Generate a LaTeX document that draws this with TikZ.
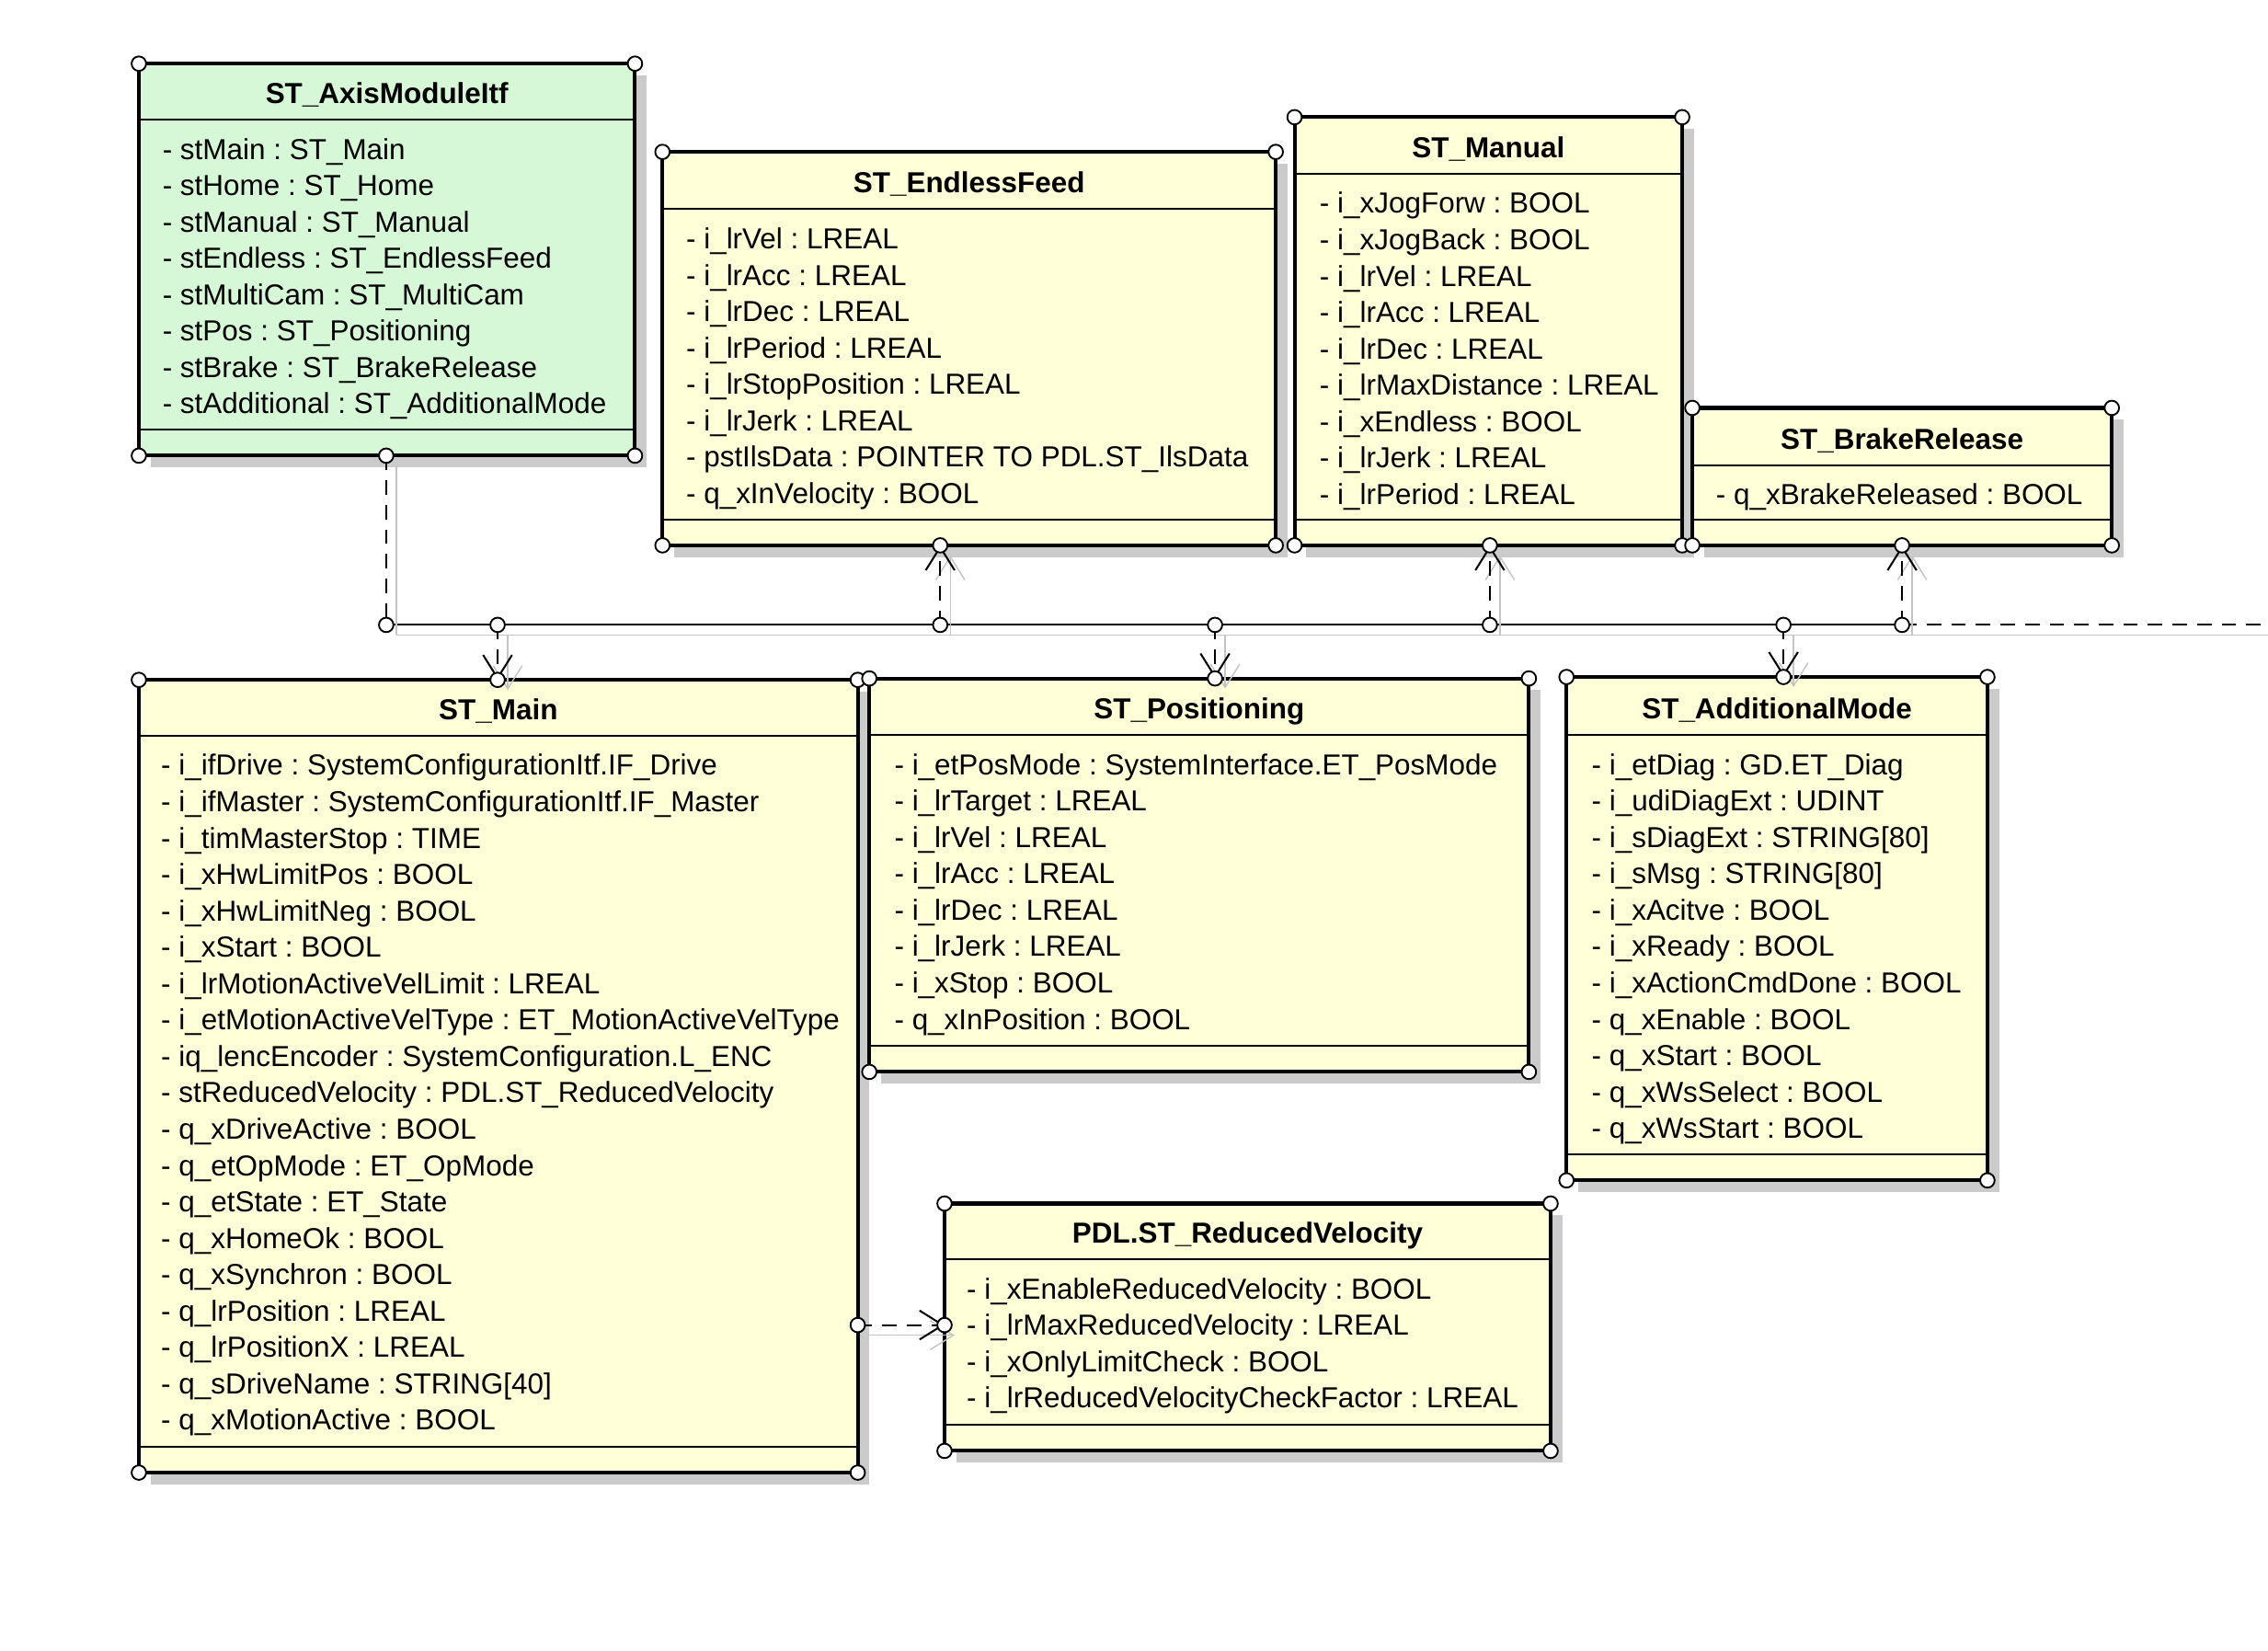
\documentclass[tikz,border=0pt]{standalone}
\usepackage{fontspec}
\setmainfont{Liberation Sans}
\usetikzlibrary{arrows.meta}
\frenchspacing

\definecolor{classyellow}{HTML}{FFFFD8}
\definecolor{classgreen}{HTML}{D6F8D6}
\definecolor{shadowgray}{HTML}{CBCBCB}
\definecolor{linkshadow}{HTML}{C4C4C4}

\tikzset{
  classframe/.style={draw=black, line width=1.3pt},
  classsep/.style={draw=black, line width=0.7pt},
  boxshadow/.style={fill=shadowgray},
  classtitle/.style={font=\fontsize{10}{12}\selectfont\bfseries, anchor=base, inner sep=0pt},
  attr/.style={font=\fontsize{10}{12}\selectfont, anchor=base west, inner sep=0pt},
  portring/.style={draw=black, fill=white, line width=0.6pt},
  linkshade/.style={preaction={draw=linkshadow, line width=0.45pt, transform canvas={shift={(3.5pt,-3.5pt)}}}},
  busline/.style={draw=black, line width=0.65pt, linkshade},
  link/.style={draw=black, line width=0.65pt, dash pattern=on 5pt off 3.5pt, linkshade},
  dep/.style={link, -{Straight Barb[length=8pt,width=10pt]}}
}

% one class: shadow, frame, two compartment lines, corner rings
% #1 name, #2/#3 top left, #4/#5 bottom right, #6/#7 separators, #8 fill
\newcommand{\classbox}[8]{%
  \fill[boxshadow] (#2+8,#3+8) rectangle (#4+8,#5+8);
  \draw[classframe,fill=#8] (#2,#3) rectangle (#4,#5);
  \draw[classsep] (#2,#6) -- (#4,#6) (#2,#7) -- (#4,#7);
  \coordinate (#1-nw) at (#2,#3);
  \coordinate (#1-ne) at (#4,#3);
  \coordinate (#1-sw) at (#2,#5);
  \coordinate (#1-se) at (#4,#5);
  \foreach \c in {nw,ne,sw,se} \draw[portring] (#1-\c) circle (2.5pt);
}

\begin{document}
\begin{tikzpicture}[x=0.5pt,y=-0.5pt]
\fill[white] (0,0) rectangle (1568,1141);
\useasboundingbox (0,0) rectangle (1568,1141);
% Drawing classes
% ST_AxisModuleItf
\classbox{axis}{96}{44}{439}{315}{82.5}{297}{classgreen}
\node[classtitle] (axis-title) at (267.5,71.5) {ST\_AxisModuleItf};
\foreach \txt [count=\i from 0] in {- stMain : ST\_Main, - stHome : ST\_Home, - stManual : ST\_Manual, - stEndless : ST\_EndlessFeed, - stMultiCam : ST\_MultiCam, - stPos : ST\_Positioning, - stBrake : ST\_BrakeRelease, - stAdditional : ST\_AdditionalMode}
  \node[attr] (axis-a\i) at (112,{110+\i*25.15}) {\txt};
% ST_EndlessFeed
\classbox{endless}{458}{105}{882}{377}{144.5}{359.5}{classyellow}
\node[classtitle] (endless-title) at (670,133.5) {ST\_EndlessFeed};
\foreach \txt [count=\i from 0] in {- i\_lrVel : LREAL, - i\_lrAcc : LREAL, - i\_lrDec : LREAL, - i\_lrPeriod : LREAL, - i\_lrStopPosition : LREAL, - i\_lrJerk : LREAL, - pstIlsData : POINTER TO PDL.ST\_IlsData, - q\_xInVelocity : BOOL}
  \node[attr] (endless-a\i) at (474,{172+\i*25.15}) {\txt};
% ST_Manual
\classbox{manual}{895}{81}{1163}{377}{120}{359.5}{classyellow}
\node[classtitle] (manual-title) at (1029,109) {ST\_Manual};
\foreach \txt [count=\i from 0] in {- i\_xJogForw : BOOL, - i\_xJogBack : BOOL, - i\_lrVel : LREAL, - i\_lrAcc : LREAL, - i\_lrDec : LREAL, - i\_lrMaxDistance : LREAL, - i\_xEndless : BOOL, - i\_lrJerk : LREAL, - i\_lrPeriod : LREAL}
  \node[attr] (manual-a\i) at (912,{147.5+\i*25.15}) {\txt};
% ST_BrakeRelease
\classbox{brake}{1170}{282}{1460}{377}{321.5}{359.5}{classyellow}
\node[classtitle] (brake-title) at (1315,310.5) {ST\_BrakeRelease};
\node[attr] (brake-a0) at (1186,349) {- q\_xBrakeReleased : BOOL};
% ST_Main
\classbox{main}{96}{470}{593}{1018}{508.5}{1000}{classyellow}
\node[classtitle] (main-title) at (344.5,497.5) {ST\_Main};
\foreach \txt [count=\i from 0] in {- i\_ifDrive : SystemConfigurationItf.IF\_Drive, - i\_ifMaster : SystemConfigurationItf.IF\_Master, - i\_timMasterStop : TIME, - i\_xHwLimitPos : BOOL, - i\_xHwLimitNeg : BOOL, - i\_xStart : BOOL, - i\_lrMotionActiveVelLimit : LREAL, - i\_etMotionActiveVelType : ET\_MotionActiveVelType, - iq\_lencEncoder : SystemConfiguration.L\_ENC, - stReducedVelocity : PDL.ST\_ReducedVelocity, - q\_xDriveActive : BOOL, - q\_etOpMode : ET\_OpMode, - q\_etState : ET\_State, - q\_xHomeOk : BOOL, - q\_xSynchron : BOOL, - q\_lrPosition : LREAL, - q\_lrPositionX : LREAL, - q\_sDriveName : STRING[40], - q\_xMotionActive : BOOL}
  \node[attr] (main-a\i) at (111,{536+\i*25.15}) {\txt};
% ST_Positioning
\classbox{pos}{601}{469}{1057}{741}{508}{723}{classyellow}
\node[classtitle] (pos-title) at (829,497) {ST\_Positioning};
\foreach \txt [count=\i from 0] in {- i\_etPosMode : SystemInterface.ET\_PosMode, - i\_lrTarget : LREAL, - i\_lrVel : LREAL, - i\_lrAcc : LREAL, - i\_lrDec : LREAL, - i\_lrJerk : LREAL, - i\_xStop : BOOL, - q\_xInPosition : BOOL}
  \node[attr] (pos-a\i) at (618,{535.5+\i*25.15}) {\txt};
% ST_AdditionalMode
\classbox{addmode}{1083}{468}{1374}{816}{508}{798}{classyellow}
\node[classtitle] (addmode-title) at (1228.5,497) {ST\_AdditionalMode};
\foreach \txt [count=\i from 0] in {- i\_etDiag : GD.ET\_Diag, - i\_udiDiagExt : UDINT, - i\_sDiagExt : STRING[80], - i\_sMsg : STRING[80], - i\_xAcitve : BOOL, - i\_xReady : BOOL, - i\_xActionCmdDone : BOOL, - q\_xEnable : BOOL, - q\_xStart : BOOL, - q\_xWsSelect : BOOL, - q\_xWsStart : BOOL}
  \node[attr] (addmode-a\i) at (1100,{535.5+\i*25.15}) {\txt};
% PDL.ST_ReducedVelocity
\classbox{pdl}{653}{832}{1072}{1003}{870.5}{985}{classyellow}
\node[classtitle] (pdl-title) at (862.5,859.5) {PDL.ST\_ReducedVelocity};
\foreach \txt [count=\i from 0] in {- i\_xEnableReducedVelocity : BOOL, - i\_lrMaxReducedVelocity : LREAL, - i\_xOnlyLimitCheck : BOOL, - i\_lrReducedVelocityCheckFactor : LREAL}
  \node[attr] (pdl-a\i) at (668,{898+\i*25.15}) {\txt};
% Done with classes; drawing links
\coordinate (axis-out) at (267,315);
\coordinate (endless-in) at (650,377);
\coordinate (manual-in) at (1030,377);
\coordinate (brake-in) at (1315,377);
\coordinate (main-in) at (344,470);
\coordinate (pos-in) at (840,469);
\coordinate (addmode-in) at (1233,468);
\coordinate (main-out) at (593,916);
\coordinate (pdl-in) at (653,916);
\coordinate (bus-axis) at (267,432);
\coordinate (bus-main) at (344,432);
\coordinate (bus-endless) at (650,432);
\coordinate (bus-pos) at (840,432);
\coordinate (bus-manual) at (1030,432);
\coordinate (bus-addmode) at (1233,432);
\coordinate (bus-brake) at (1315,432);
\coordinate (bus-end) at (1568,432);
\draw[busline] (bus-axis) -- (bus-brake);
\draw[link] (bus-brake) -- (bus-end);
\draw[link] (axis-out) -- (bus-axis);
\draw[dep] (bus-main) -- (main-in);
\draw[dep] (bus-endless) -- (endless-in);
\draw[dep] (bus-pos) -- (pos-in);
\draw[dep] (bus-manual) -- (manual-in);
\draw[dep] (bus-addmode) -- (addmode-in);
\draw[dep] (bus-brake) -- (brake-in);
\draw[dep] (main-out) -- (pdl-in);
% Done with links; drawing link ends
\foreach \p in {axis-out, endless-in, manual-in, brake-in, main-in, pos-in, addmode-in, main-out, pdl-in, bus-axis, bus-main, bus-endless, bus-pos, bus-manual, bus-addmode, bus-brake}
  \draw[portring] (\p) circle (2.5pt);
\end{tikzpicture}
\end{document}
